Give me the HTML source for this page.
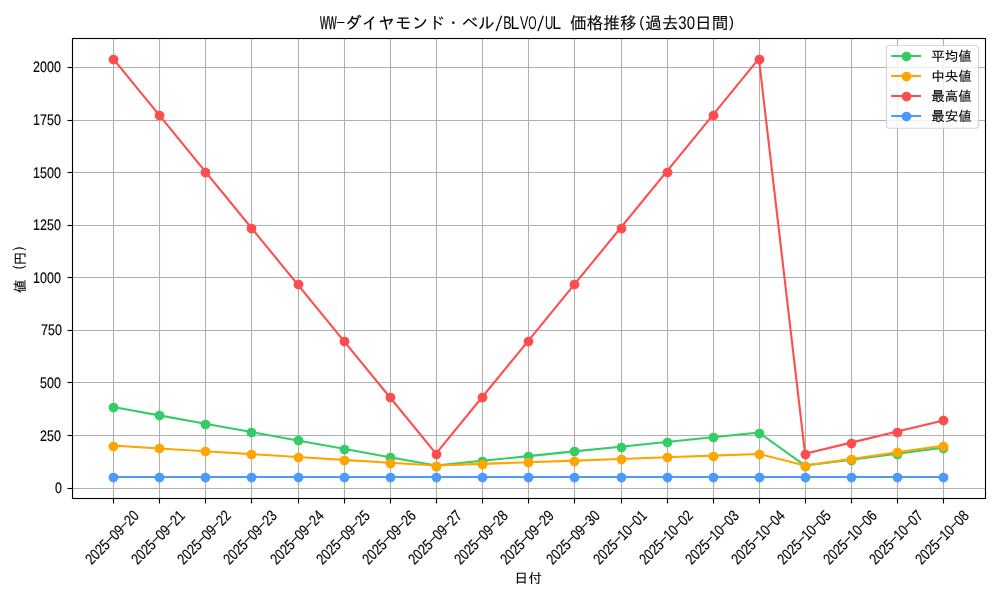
<!DOCTYPE html>
<html lang="ja">
<head>
<meta charset="utf-8">
<title>WW-ダイヤモンド・ベル/BLVO/UL 価格推移(過去30日間)</title>
<style>
html,body{margin:0;padding:0;background:#fff;}
body{width:1000px;height:600px;overflow:hidden;}
svg text{white-space:pre;text-rendering:geometricPrecision;}
</style>
</head>
<body>
<svg width="1000" height="600" viewBox="0 0 1000 600" style="display:block;font-family:'Liberation Sans','IPAGothic',sans-serif">
<rect width="1000" height="600" fill="#fff"/>
<g stroke="#b0b0b0" stroke-width="1.111" fill="none">
<path d="M113.5 38.5V498.5"/>
<path d="M159.5 38.5V498.5"/>
<path d="M205.5 38.5V498.5"/>
<path d="M251.5 38.5V498.5"/>
<path d="M298.5 38.5V498.5"/>
<path d="M344.5 38.5V498.5"/>
<path d="M390.5 38.5V498.5"/>
<path d="M436.5 38.5V498.5"/>
<path d="M482.5 38.5V498.5"/>
<path d="M528.5 38.5V498.5"/>
<path d="M574.5 38.5V498.5"/>
<path d="M621.5 38.5V498.5"/>
<path d="M667.5 38.5V498.5"/>
<path d="M713.5 38.5V498.5"/>
<path d="M759.5 38.5V498.5"/>
<path d="M805.5 38.5V498.5"/>
<path d="M851.5 38.5V498.5"/>
<path d="M897.5 38.5V498.5"/>
<path d="M943.5 38.5V498.5"/>
<path d="M72.5 488.5H985.5"/>
<path d="M72.5 435.5H985.5"/>
<path d="M72.5 382.5H985.5"/>
<path d="M72.5 330.5H985.5"/>
<path d="M72.5 277.5H985.5"/>
<path d="M72.5 225.5H985.5"/>
<path d="M72.5 172.5H985.5"/>
<path d="M72.5 120.5H985.5"/>
<path d="M72.5 67.5H985.5"/>
</g>
<g stroke="#000" stroke-width="1.111" fill="none">
<path d="M113.5 498.5V503.50"/>
<path d="M159.5 498.5V503.50"/>
<path d="M205.5 498.5V503.50"/>
<path d="M251.5 498.5V503.50"/>
<path d="M298.5 498.5V503.50"/>
<path d="M344.5 498.5V503.50"/>
<path d="M390.5 498.5V503.50"/>
<path d="M436.5 498.5V503.50"/>
<path d="M482.5 498.5V503.50"/>
<path d="M528.5 498.5V503.50"/>
<path d="M574.5 498.5V503.50"/>
<path d="M621.5 498.5V503.50"/>
<path d="M667.5 498.5V503.50"/>
<path d="M713.5 498.5V503.50"/>
<path d="M759.5 498.5V503.50"/>
<path d="M805.5 498.5V503.50"/>
<path d="M851.5 498.5V503.50"/>
<path d="M897.5 498.5V503.50"/>
<path d="M943.5 498.5V503.50"/>
<path d="M72.5 488.5H67.50"/>
<path d="M72.5 435.5H67.50"/>
<path d="M72.5 382.5H67.50"/>
<path d="M72.5 330.5H67.50"/>
<path d="M72.5 277.5H67.50"/>
<path d="M72.5 225.5H67.50"/>
<path d="M72.5 172.5H67.50"/>
<path d="M72.5 120.5H67.50"/>
<path d="M72.5 67.5H67.50"/>
</g>
<polyline points="113.09,407.01 159.22,415.37 205.35,423.73 251.48,432.09 297.61,440.45 343.74,448.81 389.87,457.17 436.00,465.53 482.13,460.82 528.26,456.11 574.39,451.40 620.52,446.68 666.65,441.97 712.78,437.26 758.91,432.55 805.04,465.57 851.17,459.61 897.30,453.65 943.43,447.69" fill="none" stroke="#33cc66" stroke-width="2.083" stroke-linejoin="round" stroke-linecap="square"/>
<g fill="#33cc66">
<ellipse cx="113.5" cy="407.52" rx="4.92" ry="4.86"/>
<ellipse cx="159.5" cy="415.52" rx="4.92" ry="4.86"/>
<ellipse cx="205.5" cy="424.52" rx="4.92" ry="4.86"/>
<ellipse cx="251.5" cy="432.52" rx="4.92" ry="4.86"/>
<ellipse cx="298.5" cy="440.52" rx="4.92" ry="4.86"/>
<ellipse cx="344.5" cy="449.52" rx="4.92" ry="4.86"/>
<ellipse cx="390.5" cy="457.52" rx="4.92" ry="4.86"/>
<ellipse cx="436.5" cy="466.52" rx="4.92" ry="4.86"/>
<ellipse cx="482.5" cy="461.52" rx="4.92" ry="4.86"/>
<ellipse cx="528.5" cy="456.52" rx="4.92" ry="4.86"/>
<ellipse cx="574.5" cy="451.52" rx="4.92" ry="4.86"/>
<ellipse cx="621.5" cy="447.52" rx="4.92" ry="4.86"/>
<ellipse cx="667.5" cy="442.52" rx="4.92" ry="4.86"/>
<ellipse cx="713.5" cy="437.52" rx="4.92" ry="4.86"/>
<ellipse cx="759.5" cy="433.52" rx="4.92" ry="4.86"/>
<ellipse cx="805.5" cy="466.52" rx="4.92" ry="4.86"/>
<ellipse cx="851.5" cy="460.52" rx="4.92" ry="4.86"/>
<ellipse cx="897.5" cy="454.52" rx="4.92" ry="4.86"/>
<ellipse cx="943.5" cy="448.52" rx="4.92" ry="4.86"/>
</g>
<polyline points="113.09,445.59 159.22,448.44 205.35,451.29 251.48,454.15 297.61,457.00 343.74,459.86 389.87,462.71 436.00,465.57 482.13,463.91 528.26,462.26 574.39,460.61 620.52,458.96 666.65,457.30 712.78,455.65 758.91,454.00 805.04,465.57 851.17,458.91 897.30,452.25 943.43,445.59" fill="none" stroke="#ffa500" stroke-width="2.083" stroke-linejoin="round" stroke-linecap="square"/>
<g fill="#ffa500">
<ellipse cx="113.5" cy="446.52" rx="4.92" ry="4.86"/>
<ellipse cx="159.5" cy="448.52" rx="4.92" ry="4.86"/>
<ellipse cx="205.5" cy="451.52" rx="4.92" ry="4.86"/>
<ellipse cx="251.5" cy="454.52" rx="4.92" ry="4.86"/>
<ellipse cx="298.5" cy="457.52" rx="4.92" ry="4.86"/>
<ellipse cx="344.5" cy="460.52" rx="4.92" ry="4.86"/>
<ellipse cx="390.5" cy="463.52" rx="4.92" ry="4.86"/>
<ellipse cx="436.5" cy="466.52" rx="4.92" ry="4.86"/>
<ellipse cx="482.5" cy="464.52" rx="4.92" ry="4.86"/>
<ellipse cx="528.5" cy="462.52" rx="4.92" ry="4.86"/>
<ellipse cx="574.5" cy="461.52" rx="4.92" ry="4.86"/>
<ellipse cx="621.5" cy="459.52" rx="4.92" ry="4.86"/>
<ellipse cx="667.5" cy="457.52" rx="4.92" ry="4.86"/>
<ellipse cx="713.5" cy="456.52" rx="4.92" ry="4.86"/>
<ellipse cx="759.5" cy="454.52" rx="4.92" ry="4.86"/>
<ellipse cx="805.5" cy="466.52" rx="4.92" ry="4.86"/>
<ellipse cx="851.5" cy="459.52" rx="4.92" ry="4.86"/>
<ellipse cx="897.5" cy="452.52" rx="4.92" ry="4.86"/>
<ellipse cx="943.5" cy="446.52" rx="4.92" ry="4.86"/>
</g>
<polyline points="113.09,58.70 159.22,115.13 205.35,171.56 251.48,227.99 297.61,284.42 343.74,340.85 389.87,397.28 436.00,453.70 482.13,397.28 528.26,340.85 574.39,284.42 620.52,227.99 666.65,171.56 712.78,115.13 758.91,58.70 805.04,453.70 851.17,442.62 897.30,431.54 943.43,420.45" fill="none" stroke="#ff4d4d" stroke-width="2.083" stroke-linejoin="round" stroke-linecap="square"/>
<g fill="#ff4d4d">
<ellipse cx="113.5" cy="59.52" rx="4.92" ry="4.86"/>
<ellipse cx="159.5" cy="115.52" rx="4.92" ry="4.86"/>
<ellipse cx="205.5" cy="172.52" rx="4.92" ry="4.86"/>
<ellipse cx="251.5" cy="228.52" rx="4.92" ry="4.86"/>
<ellipse cx="298.5" cy="284.52" rx="4.92" ry="4.86"/>
<ellipse cx="344.5" cy="341.52" rx="4.92" ry="4.86"/>
<ellipse cx="390.5" cy="397.52" rx="4.92" ry="4.86"/>
<ellipse cx="436.5" cy="454.52" rx="4.92" ry="4.86"/>
<ellipse cx="482.5" cy="397.52" rx="4.92" ry="4.86"/>
<ellipse cx="528.5" cy="341.52" rx="4.92" ry="4.86"/>
<ellipse cx="574.5" cy="284.52" rx="4.92" ry="4.86"/>
<ellipse cx="621.5" cy="228.52" rx="4.92" ry="4.86"/>
<ellipse cx="667.5" cy="172.52" rx="4.92" ry="4.86"/>
<ellipse cx="713.5" cy="115.52" rx="4.92" ry="4.86"/>
<ellipse cx="759.5" cy="59.52" rx="4.92" ry="4.86"/>
<ellipse cx="805.5" cy="454.52" rx="4.92" ry="4.86"/>
<ellipse cx="851.5" cy="443.52" rx="4.92" ry="4.86"/>
<ellipse cx="897.5" cy="432.52" rx="4.92" ry="4.86"/>
<ellipse cx="943.5" cy="420.52" rx="4.92" ry="4.86"/>
</g>
<polyline points="113,477 943,477" fill="none" stroke="#4d9aff" stroke-width="2.083" stroke-linejoin="round" stroke-linecap="square"/>
<g fill="#4d9aff">
<ellipse cx="113.5" cy="477.52" rx="4.92" ry="4.86"/>
<ellipse cx="159.5" cy="477.52" rx="4.92" ry="4.86"/>
<ellipse cx="205.5" cy="477.52" rx="4.92" ry="4.86"/>
<ellipse cx="251.5" cy="477.52" rx="4.92" ry="4.86"/>
<ellipse cx="298.5" cy="477.52" rx="4.92" ry="4.86"/>
<ellipse cx="344.5" cy="477.52" rx="4.92" ry="4.86"/>
<ellipse cx="390.5" cy="477.52" rx="4.92" ry="4.86"/>
<ellipse cx="436.5" cy="477.52" rx="4.92" ry="4.86"/>
<ellipse cx="482.5" cy="477.52" rx="4.92" ry="4.86"/>
<ellipse cx="528.5" cy="477.52" rx="4.92" ry="4.86"/>
<ellipse cx="574.5" cy="477.52" rx="4.92" ry="4.86"/>
<ellipse cx="621.5" cy="477.52" rx="4.92" ry="4.86"/>
<ellipse cx="667.5" cy="477.52" rx="4.92" ry="4.86"/>
<ellipse cx="713.5" cy="477.52" rx="4.92" ry="4.86"/>
<ellipse cx="759.5" cy="477.52" rx="4.92" ry="4.86"/>
<ellipse cx="805.5" cy="477.52" rx="4.92" ry="4.86"/>
<ellipse cx="851.5" cy="477.52" rx="4.92" ry="4.86"/>
<ellipse cx="897.5" cy="477.52" rx="4.92" ry="4.86"/>
<ellipse cx="943.5" cy="477.52" rx="4.92" ry="4.86"/>
</g>
<rect x="72.5" y="38.5" width="913.0" height="460.0" fill="none" stroke="#000" stroke-width="1.111"/>
<text xml:space="preserve" y="29" fill="#000"><tspan x="320" dy="-0.2" font-size="18.42" textLength="8.33" lengthAdjust="spacingAndGlyphs" stroke="#000" stroke-width="0.4">W</tspan><tspan x="328.33" font-size="18.42" textLength="8.33" lengthAdjust="spacingAndGlyphs" stroke="#000" stroke-width="0.4">W</tspan><tspan x="335.64" dy="-3.04" font-size="13.23" textLength="10.23" lengthAdjust="spacingAndGlyphs">-</tspan><tspan x="345 361.67 378.33 395 411.67 428.34 445 461.67 478.34" dy="3.24" font-size="16.67" stroke="#000" stroke-width="0.1">ダイヤモンド・ベル</tspan><tspan x="495" dy="1.59" font-size="21.52" textLength="7.83" lengthAdjust="spacingAndGlyphs" stroke="#fff" stroke-width="0.55">/</tspan><tspan x="503.34" dy="-1.79" font-size="18.42" textLength="8.33" lengthAdjust="spacingAndGlyphs">B</tspan><tspan x="510.62" font-size="18.61" textLength="8.83" lengthAdjust="spacingAndGlyphs">L</tspan><tspan x="520" font-size="18.42" textLength="8.33" lengthAdjust="spacingAndGlyphs">V</tspan><tspan x="528.34" font-size="18.42" textLength="8.33" lengthAdjust="spacingAndGlyphs">O</tspan><tspan x="536.67" dy="1.79" font-size="21.52" textLength="7.83" lengthAdjust="spacingAndGlyphs" stroke="#fff" stroke-width="0.55">/</tspan><tspan x="545" dy="-1.79" font-size="18.42" textLength="8.33" lengthAdjust="spacingAndGlyphs">U</tspan><tspan x="552.29" font-size="18.61" textLength="8.83" lengthAdjust="spacingAndGlyphs">L</tspan> <tspan x="570 586.67 603.34 620.01" dy="0.2" font-size="16.67" stroke="#000" stroke-width="0.1">価格推移</tspan><tspan x="639.24" dy="-2.15" font-size="15.21" textLength="5.02" lengthAdjust="spacingAndGlyphs">(</tspan><tspan x="645.01 661.67" dy="2.15" font-size="16.67" stroke="#000" stroke-width="0.1">過去</tspan><tspan x="678.34" dy="-0.2" font-size="18.42" textLength="16.67" lengthAdjust="spacingAndGlyphs">30</tspan><tspan x="695.01 711.67" dy="0.2" font-size="16.67" stroke="#000" stroke-width="0.1">日間</tspan><tspan x="729.09" dy="-2.15" font-size="15.21" textLength="5.02" lengthAdjust="spacingAndGlyphs">)</tspan></text>
<g fill="#000">
<text y="492.7"><tspan x="54.96" font-size="15.35" textLength="6.94" lengthAdjust="spacingAndGlyphs" stroke="#000" stroke-width="0.15">0</tspan></text>
<text y="440.7"><tspan x="40.07" font-size="15.35" textLength="20.83" lengthAdjust="spacingAndGlyphs" stroke="#000" stroke-width="0.15">250</tspan></text>
<text y="387.7"><tspan x="40.07" font-size="15.35" textLength="20.83" lengthAdjust="spacingAndGlyphs" stroke="#000" stroke-width="0.15">500</tspan></text>
<text y="334.7"><tspan x="41.07" font-size="15.35" textLength="20.83" lengthAdjust="spacingAndGlyphs" stroke="#000" stroke-width="0.15">750</tspan></text>
<text y="282.7"><tspan x="33.12" font-size="15.35" textLength="27.78" lengthAdjust="spacingAndGlyphs" stroke="#000" stroke-width="0.15">1000</tspan></text>
<text y="229.7"><tspan x="33.12" font-size="15.35" textLength="27.78" lengthAdjust="spacingAndGlyphs" stroke="#000" stroke-width="0.15">1250</tspan></text>
<text y="177.7"><tspan x="33.12" font-size="15.35" textLength="27.78" lengthAdjust="spacingAndGlyphs" stroke="#000" stroke-width="0.15">1500</tspan></text>
<text y="124.7"><tspan x="33.12" font-size="15.35" textLength="27.78" lengthAdjust="spacingAndGlyphs" stroke="#000" stroke-width="0.15">1750</tspan></text>
<text y="71.7"><tspan x="33.12" font-size="15.35" textLength="27.78" lengthAdjust="spacingAndGlyphs" stroke="#000" stroke-width="0.15">2000</tspan></text>
</g>
<g fill="#000">
<text transform="translate(112 537.3) rotate(-45)" y="5.25"><tspan x="-34.3" font-size="15.35" textLength="27.44" lengthAdjust="spacingAndGlyphs" stroke="#000" stroke-width="0.15">2025</tspan><tspan x="-8.12" dy="-2.08" font-size="13.33" textLength="9.47" lengthAdjust="spacingAndGlyphs">-</tspan><tspan x="0" dy="2.08" font-size="15.35" textLength="13.72" lengthAdjust="spacingAndGlyphs" stroke="#000" stroke-width="0.15">09</tspan><tspan x="12.46" dy="-2.08" font-size="13.33" textLength="9.47" lengthAdjust="spacingAndGlyphs">-</tspan><tspan x="20.58" dy="2.08" font-size="15.35" textLength="13.72" lengthAdjust="spacingAndGlyphs" stroke="#000" stroke-width="0.15">20</tspan></text>
<text transform="translate(158 537.3) rotate(-45)" y="5.25"><tspan x="-34.3" font-size="15.35" textLength="27.44" lengthAdjust="spacingAndGlyphs" stroke="#000" stroke-width="0.15">2025</tspan><tspan x="-8.12" dy="-2.08" font-size="13.33" textLength="9.47" lengthAdjust="spacingAndGlyphs">-</tspan><tspan x="0" dy="2.08" font-size="15.35" textLength="13.72" lengthAdjust="spacingAndGlyphs" stroke="#000" stroke-width="0.15">09</tspan><tspan x="12.46" dy="-2.08" font-size="13.33" textLength="9.47" lengthAdjust="spacingAndGlyphs">-</tspan><tspan x="20.58" dy="2.08" font-size="15.35" textLength="13.72" lengthAdjust="spacingAndGlyphs" stroke="#000" stroke-width="0.15">21</tspan></text>
<text transform="translate(204 537.3) rotate(-45)" y="5.25"><tspan x="-34.3" font-size="15.35" textLength="27.44" lengthAdjust="spacingAndGlyphs" stroke="#000" stroke-width="0.15">2025</tspan><tspan x="-8.12" dy="-2.08" font-size="13.33" textLength="9.47" lengthAdjust="spacingAndGlyphs">-</tspan><tspan x="0" dy="2.08" font-size="15.35" textLength="13.72" lengthAdjust="spacingAndGlyphs" stroke="#000" stroke-width="0.15">09</tspan><tspan x="12.46" dy="-2.08" font-size="13.33" textLength="9.47" lengthAdjust="spacingAndGlyphs">-</tspan><tspan x="20.58" dy="2.08" font-size="15.35" textLength="13.72" lengthAdjust="spacingAndGlyphs" stroke="#000" stroke-width="0.15">22</tspan></text>
<text transform="translate(250 537.3) rotate(-45)" y="5.25"><tspan x="-34.3" font-size="15.35" textLength="27.44" lengthAdjust="spacingAndGlyphs" stroke="#000" stroke-width="0.15">2025</tspan><tspan x="-8.12" dy="-2.08" font-size="13.33" textLength="9.47" lengthAdjust="spacingAndGlyphs">-</tspan><tspan x="0" dy="2.08" font-size="15.35" textLength="13.72" lengthAdjust="spacingAndGlyphs" stroke="#000" stroke-width="0.15">09</tspan><tspan x="12.46" dy="-2.08" font-size="13.33" textLength="9.47" lengthAdjust="spacingAndGlyphs">-</tspan><tspan x="20.58" dy="2.08" font-size="15.35" textLength="13.72" lengthAdjust="spacingAndGlyphs" stroke="#000" stroke-width="0.15">23</tspan></text>
<text transform="translate(297 537.3) rotate(-45)" y="5.25"><tspan x="-34.3" font-size="15.35" textLength="27.44" lengthAdjust="spacingAndGlyphs" stroke="#000" stroke-width="0.15">2025</tspan><tspan x="-8.12" dy="-2.08" font-size="13.33" textLength="9.47" lengthAdjust="spacingAndGlyphs">-</tspan><tspan x="0" dy="2.08" font-size="15.35" textLength="13.72" lengthAdjust="spacingAndGlyphs" stroke="#000" stroke-width="0.15">09</tspan><tspan x="12.46" dy="-2.08" font-size="13.33" textLength="9.47" lengthAdjust="spacingAndGlyphs">-</tspan><tspan x="20.58" dy="2.08" font-size="15.35" textLength="13.72" lengthAdjust="spacingAndGlyphs" stroke="#000" stroke-width="0.15">24</tspan></text>
<text transform="translate(343 537.3) rotate(-45)" y="5.25"><tspan x="-34.3" font-size="15.35" textLength="27.44" lengthAdjust="spacingAndGlyphs" stroke="#000" stroke-width="0.15">2025</tspan><tspan x="-8.12" dy="-2.08" font-size="13.33" textLength="9.47" lengthAdjust="spacingAndGlyphs">-</tspan><tspan x="0" dy="2.08" font-size="15.35" textLength="13.72" lengthAdjust="spacingAndGlyphs" stroke="#000" stroke-width="0.15">09</tspan><tspan x="12.46" dy="-2.08" font-size="13.33" textLength="9.47" lengthAdjust="spacingAndGlyphs">-</tspan><tspan x="20.58" dy="2.08" font-size="15.35" textLength="13.72" lengthAdjust="spacingAndGlyphs" stroke="#000" stroke-width="0.15">25</tspan></text>
<text transform="translate(389 537.3) rotate(-45)" y="5.25"><tspan x="-34.3" font-size="15.35" textLength="27.44" lengthAdjust="spacingAndGlyphs" stroke="#000" stroke-width="0.15">2025</tspan><tspan x="-8.12" dy="-2.08" font-size="13.33" textLength="9.47" lengthAdjust="spacingAndGlyphs">-</tspan><tspan x="0" dy="2.08" font-size="15.35" textLength="13.72" lengthAdjust="spacingAndGlyphs" stroke="#000" stroke-width="0.15">09</tspan><tspan x="12.46" dy="-2.08" font-size="13.33" textLength="9.47" lengthAdjust="spacingAndGlyphs">-</tspan><tspan x="20.58" dy="2.08" font-size="15.35" textLength="13.72" lengthAdjust="spacingAndGlyphs" stroke="#000" stroke-width="0.15">26</tspan></text>
<text transform="translate(435 537.3) rotate(-45)" y="5.25"><tspan x="-34.3" font-size="15.35" textLength="27.44" lengthAdjust="spacingAndGlyphs" stroke="#000" stroke-width="0.15">2025</tspan><tspan x="-8.12" dy="-2.08" font-size="13.33" textLength="9.47" lengthAdjust="spacingAndGlyphs">-</tspan><tspan x="0" dy="2.08" font-size="15.35" textLength="13.72" lengthAdjust="spacingAndGlyphs" stroke="#000" stroke-width="0.15">09</tspan><tspan x="12.46" dy="-2.08" font-size="13.33" textLength="9.47" lengthAdjust="spacingAndGlyphs">-</tspan><tspan x="20.58" dy="2.08" font-size="15.35" textLength="13.72" lengthAdjust="spacingAndGlyphs" stroke="#000" stroke-width="0.15">27</tspan></text>
<text transform="translate(481 537.3) rotate(-45)" y="5.25"><tspan x="-34.3" font-size="15.35" textLength="27.44" lengthAdjust="spacingAndGlyphs" stroke="#000" stroke-width="0.15">2025</tspan><tspan x="-8.12" dy="-2.08" font-size="13.33" textLength="9.47" lengthAdjust="spacingAndGlyphs">-</tspan><tspan x="0" dy="2.08" font-size="15.35" textLength="13.72" lengthAdjust="spacingAndGlyphs" stroke="#000" stroke-width="0.15">09</tspan><tspan x="12.46" dy="-2.08" font-size="13.33" textLength="9.47" lengthAdjust="spacingAndGlyphs">-</tspan><tspan x="20.58" dy="2.08" font-size="15.35" textLength="13.72" lengthAdjust="spacingAndGlyphs" stroke="#000" stroke-width="0.15">28</tspan></text>
<text transform="translate(527 537.3) rotate(-45)" y="5.25"><tspan x="-34.3" font-size="15.35" textLength="27.44" lengthAdjust="spacingAndGlyphs" stroke="#000" stroke-width="0.15">2025</tspan><tspan x="-8.12" dy="-2.08" font-size="13.33" textLength="9.47" lengthAdjust="spacingAndGlyphs">-</tspan><tspan x="0" dy="2.08" font-size="15.35" textLength="13.72" lengthAdjust="spacingAndGlyphs" stroke="#000" stroke-width="0.15">09</tspan><tspan x="12.46" dy="-2.08" font-size="13.33" textLength="9.47" lengthAdjust="spacingAndGlyphs">-</tspan><tspan x="20.58" dy="2.08" font-size="15.35" textLength="13.72" lengthAdjust="spacingAndGlyphs" stroke="#000" stroke-width="0.15">29</tspan></text>
<text transform="translate(573 537.3) rotate(-45)" y="5.25"><tspan x="-34.3" font-size="15.35" textLength="27.44" lengthAdjust="spacingAndGlyphs" stroke="#000" stroke-width="0.15">2025</tspan><tspan x="-8.12" dy="-2.08" font-size="13.33" textLength="9.47" lengthAdjust="spacingAndGlyphs">-</tspan><tspan x="0" dy="2.08" font-size="15.35" textLength="13.72" lengthAdjust="spacingAndGlyphs" stroke="#000" stroke-width="0.15">09</tspan><tspan x="12.46" dy="-2.08" font-size="13.33" textLength="9.47" lengthAdjust="spacingAndGlyphs">-</tspan><tspan x="20.58" dy="2.08" font-size="15.35" textLength="13.72" lengthAdjust="spacingAndGlyphs" stroke="#000" stroke-width="0.15">30</tspan></text>
<text transform="translate(620 537.3) rotate(-45)" y="5.25"><tspan x="-34.3" font-size="15.35" textLength="27.44" lengthAdjust="spacingAndGlyphs" stroke="#000" stroke-width="0.15">2025</tspan><tspan x="-8.12" dy="-2.08" font-size="13.33" textLength="9.47" lengthAdjust="spacingAndGlyphs">-</tspan><tspan x="0" dy="2.08" font-size="15.35" textLength="13.72" lengthAdjust="spacingAndGlyphs" stroke="#000" stroke-width="0.15">10</tspan><tspan x="12.46" dy="-2.08" font-size="13.33" textLength="9.47" lengthAdjust="spacingAndGlyphs">-</tspan><tspan x="20.58" dy="2.08" font-size="15.35" textLength="13.72" lengthAdjust="spacingAndGlyphs" stroke="#000" stroke-width="0.15">01</tspan></text>
<text transform="translate(666 537.3) rotate(-45)" y="5.25"><tspan x="-34.3" font-size="15.35" textLength="27.44" lengthAdjust="spacingAndGlyphs" stroke="#000" stroke-width="0.15">2025</tspan><tspan x="-8.12" dy="-2.08" font-size="13.33" textLength="9.47" lengthAdjust="spacingAndGlyphs">-</tspan><tspan x="0" dy="2.08" font-size="15.35" textLength="13.72" lengthAdjust="spacingAndGlyphs" stroke="#000" stroke-width="0.15">10</tspan><tspan x="12.46" dy="-2.08" font-size="13.33" textLength="9.47" lengthAdjust="spacingAndGlyphs">-</tspan><tspan x="20.58" dy="2.08" font-size="15.35" textLength="13.72" lengthAdjust="spacingAndGlyphs" stroke="#000" stroke-width="0.15">02</tspan></text>
<text transform="translate(712 537.3) rotate(-45)" y="5.25"><tspan x="-34.3" font-size="15.35" textLength="27.44" lengthAdjust="spacingAndGlyphs" stroke="#000" stroke-width="0.15">2025</tspan><tspan x="-8.12" dy="-2.08" font-size="13.33" textLength="9.47" lengthAdjust="spacingAndGlyphs">-</tspan><tspan x="0" dy="2.08" font-size="15.35" textLength="13.72" lengthAdjust="spacingAndGlyphs" stroke="#000" stroke-width="0.15">10</tspan><tspan x="12.46" dy="-2.08" font-size="13.33" textLength="9.47" lengthAdjust="spacingAndGlyphs">-</tspan><tspan x="20.58" dy="2.08" font-size="15.35" textLength="13.72" lengthAdjust="spacingAndGlyphs" stroke="#000" stroke-width="0.15">03</tspan></text>
<text transform="translate(758 537.3) rotate(-45)" y="5.25"><tspan x="-34.3" font-size="15.35" textLength="27.44" lengthAdjust="spacingAndGlyphs" stroke="#000" stroke-width="0.15">2025</tspan><tspan x="-8.12" dy="-2.08" font-size="13.33" textLength="9.47" lengthAdjust="spacingAndGlyphs">-</tspan><tspan x="0" dy="2.08" font-size="15.35" textLength="13.72" lengthAdjust="spacingAndGlyphs" stroke="#000" stroke-width="0.15">10</tspan><tspan x="12.46" dy="-2.08" font-size="13.33" textLength="9.47" lengthAdjust="spacingAndGlyphs">-</tspan><tspan x="20.58" dy="2.08" font-size="15.35" textLength="13.72" lengthAdjust="spacingAndGlyphs" stroke="#000" stroke-width="0.15">04</tspan></text>
<text transform="translate(804 537.3) rotate(-45)" y="5.25"><tspan x="-34.3" font-size="15.35" textLength="27.44" lengthAdjust="spacingAndGlyphs" stroke="#000" stroke-width="0.15">2025</tspan><tspan x="-8.12" dy="-2.08" font-size="13.33" textLength="9.47" lengthAdjust="spacingAndGlyphs">-</tspan><tspan x="0" dy="2.08" font-size="15.35" textLength="13.72" lengthAdjust="spacingAndGlyphs" stroke="#000" stroke-width="0.15">10</tspan><tspan x="12.46" dy="-2.08" font-size="13.33" textLength="9.47" lengthAdjust="spacingAndGlyphs">-</tspan><tspan x="20.58" dy="2.08" font-size="15.35" textLength="13.72" lengthAdjust="spacingAndGlyphs" stroke="#000" stroke-width="0.15">05</tspan></text>
<text transform="translate(850 537.3) rotate(-45)" y="5.25"><tspan x="-34.3" font-size="15.35" textLength="27.44" lengthAdjust="spacingAndGlyphs" stroke="#000" stroke-width="0.15">2025</tspan><tspan x="-8.12" dy="-2.08" font-size="13.33" textLength="9.47" lengthAdjust="spacingAndGlyphs">-</tspan><tspan x="0" dy="2.08" font-size="15.35" textLength="13.72" lengthAdjust="spacingAndGlyphs" stroke="#000" stroke-width="0.15">10</tspan><tspan x="12.46" dy="-2.08" font-size="13.33" textLength="9.47" lengthAdjust="spacingAndGlyphs">-</tspan><tspan x="20.58" dy="2.08" font-size="15.35" textLength="13.72" lengthAdjust="spacingAndGlyphs" stroke="#000" stroke-width="0.15">06</tspan></text>
<text transform="translate(896 537.3) rotate(-45)" y="5.25"><tspan x="-34.3" font-size="15.35" textLength="27.44" lengthAdjust="spacingAndGlyphs" stroke="#000" stroke-width="0.15">2025</tspan><tspan x="-8.12" dy="-2.08" font-size="13.33" textLength="9.47" lengthAdjust="spacingAndGlyphs">-</tspan><tspan x="0" dy="2.08" font-size="15.35" textLength="13.72" lengthAdjust="spacingAndGlyphs" stroke="#000" stroke-width="0.15">10</tspan><tspan x="12.46" dy="-2.08" font-size="13.33" textLength="9.47" lengthAdjust="spacingAndGlyphs">-</tspan><tspan x="20.58" dy="2.08" font-size="15.35" textLength="13.72" lengthAdjust="spacingAndGlyphs" stroke="#000" stroke-width="0.15">07</tspan></text>
<text transform="translate(942 537.3) rotate(-45)" y="5.25"><tspan x="-34.3" font-size="15.35" textLength="27.44" lengthAdjust="spacingAndGlyphs" stroke="#000" stroke-width="0.15">2025</tspan><tspan x="-8.12" dy="-2.08" font-size="13.33" textLength="9.47" lengthAdjust="spacingAndGlyphs">-</tspan><tspan x="0" dy="2.08" font-size="15.35" textLength="13.72" lengthAdjust="spacingAndGlyphs" stroke="#000" stroke-width="0.15">10</tspan><tspan x="12.46" dy="-2.08" font-size="13.33" textLength="9.47" lengthAdjust="spacingAndGlyphs">-</tspan><tspan x="20.58" dy="2.08" font-size="15.35" textLength="13.72" lengthAdjust="spacingAndGlyphs" stroke="#000" stroke-width="0.15">08</tspan></text>
</g>
<text y="583.1" fill="#000"><tspan x="514.61 528.49" font-size="13.5" stroke="#000" stroke-width="0.12">日付</tspan></text>
<text xml:space="preserve" transform="translate(25.2 269) rotate(-90)" y="0" fill="#000"><tspan x="-24.11" font-size="13.5" stroke="#000" stroke-width="0.12">値</tspan> <tspan x="-0.21" dy="-1.96" font-size="14.16" textLength="3.84" lengthAdjust="spacingAndGlyphs">(</tspan><tspan x="3.67" dy="1.96" font-size="13.5" stroke="#000" stroke-width="0.12">円</tspan><tspan x="18.4" dy="-1.96" font-size="14.16" textLength="3.84" lengthAdjust="spacingAndGlyphs">)</tspan></text>
<rect x="886.50" y="45.50" width="92.00" height="82.70" rx="2.6" ry="2.6" fill="#fff" fill-opacity="0.8" stroke="#ccc" stroke-opacity="0.8" stroke-width="1.15"/>
<path d="M892.20 56.00H920.00" stroke="#33cc66" stroke-width="2.083" stroke-linecap="square" fill="none"/>
<ellipse cx="906.5" cy="56.52" rx="4.92" ry="4.86" fill="#33cc66"/>
<text y="61.2" fill="#000"><tspan x="931.3 944.8 958.3" font-size="13.5" stroke="#000" stroke-width="0.12">平均値</tspan></text>
<path d="M892.20 76.00H920.00" stroke="#ffa500" stroke-width="2.083" stroke-linecap="square" fill="none"/>
<ellipse cx="906.5" cy="76.52" rx="4.92" ry="4.86" fill="#ffa500"/>
<text y="81.2" fill="#000"><tspan x="931.3 944.8 958.3" font-size="13.5" stroke="#000" stroke-width="0.12">中央値</tspan></text>
<path d="M892.20 96.00H920.00" stroke="#ff4d4d" stroke-width="2.083" stroke-linecap="square" fill="none"/>
<ellipse cx="906.5" cy="96.52" rx="4.92" ry="4.86" fill="#ff4d4d"/>
<text y="101.2" fill="#000"><tspan x="931.3 944.8 958.3" font-size="13.5" stroke="#000" stroke-width="0.12">最高値</tspan></text>
<path d="M892.20 116.00H920.00" stroke="#4d9aff" stroke-width="2.083" stroke-linecap="square" fill="none"/>
<ellipse cx="906.5" cy="116.52" rx="4.92" ry="4.86" fill="#4d9aff"/>
<text y="121.2" fill="#000"><tspan x="931.3 944.8 958.3" font-size="13.5" stroke="#000" stroke-width="0.12">最安値</tspan></text>
</svg>
</body>
</html>
